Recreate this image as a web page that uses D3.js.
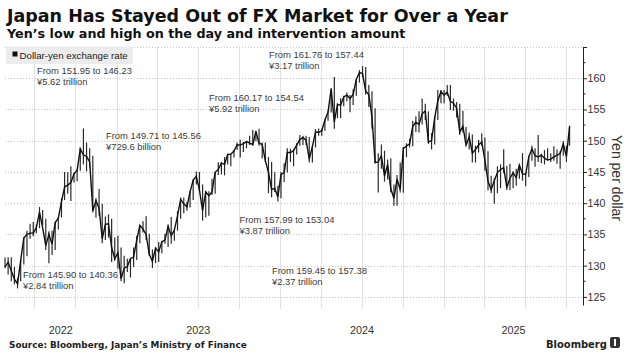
<!DOCTYPE html>
<html>
<head>
<meta charset="utf-8">
<script src="https://cdn.jsdelivr.net/npm/d3@7"></script>
<style>
  html, body { margin: 0; padding: 0; background: #fff; }
  svg { display: block; }
</style>
</head>
<body>
<svg id="chart" width="631" height="355"></svg>
<script>
// ---------------- DATA ----------------
const title = "Japan Has Stayed Out of FX Market for Over a Year";
const subtitle = "Yen\u2019s low and high on the day and intervention amount";
const legendLabel = "Dollar-yen exchange rate";
const sourceText = "Source: Bloomberg, Japan\u2019s Ministry of Finance";
const yAxisTitle = "Yen per dollar";
const yearLabels = ["2022", "2023", "2024", "2025"];
const yTicks = [125, 130, 135, 140, 145, 150, 155, 160, 165];

// weekly bars, first week starting Monday 2022-04-25, last week starting 2025-10-06
const firstWeek = "2022-04-25";
const lastWeek = "2025-10-06";

const lows2022 = [129.6,128.6,127.5,127.0,126.36,127.5,130.2,131.5,134.3,134.7,135.2,136.0,136.5,132.5,130.4,131.7,132.5,135.8,137.7,140.5,141.5,140.35,143.3,143.5,145.2,146.2,145.1,145.7,138.5,137.7,138.0,133.6,134.1,134.5,130.6,130.8];
const highs2022 = [131.3,131.35,131.35,129.8,128.0,131.0,134.55,135.6,136.7,137.0,136.6,139.38,138.9,137.5,135.5,135.6,137.0,137.7,140.8,144.99,144.96,145.9,144.9,145.4,148.85,151.95,149.7,148.8,147.6,140.8,142.25,139.9,137.85,138.2,137.5,134.5];
const closes2022 = [129.8,130.55,129.2,127.85,127.1,130.85,134.4,135.0,135.2,135.2,136.1,138.55,136.1,133.2,135.0,133.45,136.9,137.6,140.2,142.6,142.9,143.3,144.7,145.25,148.7,147.7,147.5,146.6,138.8,140.4,139.2,134.3,136.6,136.7,132.9,131.1];

const lows2023 = [129.5,127.5,127.2,129.0,128.1,129.8,130.9,133.6,135.3,134.1,131.6,129.6,130.4,130.6,132.0,133.5,133.0,133.5,134.0,135.6,137.5,138.4,138.8,139.3,140.5,143.0,142.0,137.2,137.7,138.0,141.3,141.5,144.5,144.6,144.45,146.2,145.9,147.3,148.5,147.3,148.2,148.8,149.3,149.2,149.9,149.2,147.15,146.65,141.6,140.95,141.8,140.25];
const highs2023 = [134.8,132.9,131.6,131.1,131.2,132.9,134.8,136.5,137.1,137.9,135.1,132.6,133.0,133.8,134.0,135.1,136.55,137.8,135.8,138.7,140.9,140.9,140.2,141.9,143.8,145.07,145.0,143.0,141.95,141.9,143.9,145.0,146.55,146.6,147.4,147.9,147.9,148.5,149.7,150.16,149.8,150.0,150.8,151.7,151.6,151.9,149.7,149.7,147.4,146.6,144.95,142.8];
const closes2023 = [132.1,127.9,129.6,129.85,131.15,131.35,134.1,136.45,135.85,134.95,131.8,130.7,132.8,132.2,133.8,134.1,136.3,134.8,135.7,137.95,140.6,139.9,139.4,141.8,143.7,144.3,142.1,138.8,141.8,141.2,141.8,144.95,145.4,146.4,146.2,147.8,147.85,148.35,149.35,149.3,149.55,149.85,149.6,149.4,151.5,149.6,149.4,146.8,144.95,142.15,142.4,141.0];

const lows2024 = [140.8,143.4,144.9,146.6,145.9,147.8,149.2,149.3,149.3,146.5,146.5,148.9,150.8,150.8,151.6,153.2,154.5,151.9,153.6,153.6,155.5,156.3,154.55,155.7,157.2,159.3,160.2,157.4,155.4,151.9,146.4,141.7,145.5,143.45,143.8,141.75,139.6,139.58,141.7,141.65,147.35,148.9,149.1,151.4,151.3,152.6,153.3,149.5,148.6,149.4,153.3,156.0,156.0];
const highs2024 = [145.0,146.4,148.8,148.7,148.6,149.6,150.9,150.8,150.8,150.6,149.2,151.86,151.97,151.9,153.4,154.8,158.4,160.2,156.0,156.8,157.2,157.7,157.3,158.25,159.9,161.3,161.95,161.8,158.9,157.9,155.2,148.0,149.4,148.4,147.0,147.2,143.0,144.5,146.5,149.0,149.6,150.3,153.2,153.9,154.7,156.75,155.9,154.7,151.2,153.9,158.1,158.1,158.1];
const closes2024 = [144.6,144.9,148.1,148.1,148.4,149.3,150.2,150.5,150.1,147.05,149.05,151.4,151.35,151.6,153.3,154.6,158.3,153.0,155.8,155.7,157.0,157.3,156.75,157.4,159.8,160.9,160.75,157.9,157.4,153.8,146.5,146.6,147.6,144.35,146.2,142.3,140.8,143.85,142.2,148.7,149.15,149.5,152.3,152.95,152.6,154.3,154.75,149.8,150.0,153.65,156.4,157.85,157.3];

const lows2025 = [157.2,154.9,154.8,153.7,150.95,151.3,149.28,148.6,146.5,146.5,148.1,149.2,145.2,142.05,141.6,139.9,141.6,142.4,144.8,142.1,142.1,142.4,142.8,143.9,143.6,142.7,144.2,146.8,145.85,146.6,146.4,146.2,146.85,146.6,146.8,146.3,145.5,147.6,146.6,149.2];
const highs2025 = [158.9,158.9,156.75,156.2,155.9,154.8,152.2,151.3,151.0,149.2,150.15,151.2,150.5,148.3,144.4,144.0,145.9,146.2,148.65,146.0,146.3,145.1,145.5,146.2,148.0,144.8,147.6,149.2,148.8,150.9,147.9,148.5,148.8,148.0,149.1,148.6,148.3,149.95,149.2,152.4];
const closes2025 = [157.75,156.3,156.0,155.2,151.4,152.3,149.3,150.6,148.0,148.6,149.3,149.8,146.9,143.5,142.2,143.6,144.9,145.4,145.7,142.5,144.0,144.85,144.1,146.1,144.7,144.6,147.4,148.7,147.6,147.4,147.7,147.2,146.9,147.05,147.4,147.7,147.95,149.5,147.45,152.3];

const annotationLines = [
  ["From 151.95 to 146.23", "\u00a55.62 trillion"],
  ["From 149.71 to 145.56", "\u00a5729.6 billion"],
  ["From 160.17 to 154.54", "\u00a55.92 trillion"],
  ["From 161.76 to 157.44", "\u00a53.17 trillion"],
  ["From 157.99 to 153.04", "\u00a53.87 trillion"],
  ["From 159.45 to 157.38", "\u00a52.37 trillion"],
  ["From 145.90 to 140.36", "\u00a52.84 trillion"]
];

// ---------------- LAYOUT ----------------
const annotationPos = [[37, 74], [106, 139], [209, 100.5], [269, 57.5], [239.5, 222.5], [272, 273.5], [23, 277.5]];
const FONT = "'Liberation Sans', Arial, sans-serif";
const BOLD = "'DejaVu Sans', 'Liberation Sans', sans-serif";

const svg = d3.select("#chart");
const parse = d3.utcParse("%Y-%m-%d");

const weeks = d3.utcMonday.range(parse(firstWeek), d3.utcDay.offset(parse(lastWeek), 1));
const lows = [...lows2022, ...lows2023, ...lows2024, ...lows2025];
const highs = [...highs2022, ...highs2023, ...highs2024, ...highs2025];
const closes = [...closes2022, ...closes2023, ...closes2024, ...closes2025];
const data = weeks.map((w, i) => ({ date: d3.utcDay.offset(w, 2), lo: lows[i], hi: highs[i], c: closes[i] }));

const x = d3.scaleUtc()
  .domain([parse("2022-04-27"), parse("2025-11-07")])
  .range([5, 583]);
const y = d3.scaleLinear().domain([123.7, 165]).range([305, 47]);

// vertical quarter gridlines
const quarters = d3.utcMonth.every(3).range(x.domain()[0], x.domain()[1]);
svg.append("g").selectAll("line").data(quarters).join("line")
  .attr("x1", d => Math.round(x(d)) + 0.5).attr("x2", d => Math.round(x(d)) + 0.5)
  .attr("y1", 47).attr("y2", 309)
  .attr("stroke", "#e2e2e2").attr("stroke-width", 1);

// horizontal dotted gridlines
svg.append("g").selectAll("line").data(yTicks).join("line")
  .attr("x1", 5).attr("x2", 583)
  .attr("y1", d => Math.round(y(d)) + 0.5).attr("y2", d => Math.round(y(d)) + 0.5)
  .attr("stroke", "#c8c8c8").attr("stroke-width", 1).attr("stroke-dasharray", "1,2");

// legend
svg.append("rect").attr("x", 6).attr("y", 46.5).attr("width", 127).attr("height", 17.5).attr("fill", "#ececec");
svg.append("rect").attr("x", 12.5).attr("y", 51.5).attr("width", 5).attr("height", 5).attr("fill", "#111");
svg.append("text").attr("x", 19.5).attr("y", 59).attr("font-family", FONT).attr("font-size", 9.7)
  .attr("fill", "#222").text(legendLabel);

// price bars (weekly high-low)
svg.append("g").selectAll("line").data(data).join("line")
  .attr("x1", d => x(d.date)).attr("x2", d => x(d.date))
  .attr("y1", d => y(d.hi)).attr("y2", d => y(d.lo))
  .attr("stroke", "#2a2a2a").attr("stroke-width", 1.2);

// close path
svg.append("path").datum(data)
  .attr("d", d3.line().x(d => x(d.date)).y(d => y(d.c)))
  .attr("fill", "none").attr("stroke", "#111").attr("stroke-width", 1.4);

// annotations
annotationLines.forEach((lines, i) => {
  const t = svg.append("text").attr("font-family", FONT).attr("font-size", 9.4).attr("fill", "#3a3a3a");
  lines.forEach((ln, j) => {
    t.append("tspan").attr("x", annotationPos[i][0]).attr("y", annotationPos[i][1] + j * 11).text(ln);
  });
});

// y axis
const yAxis = d3.axisRight(y).tickValues(yTicks).tickSize(4).tickPadding(0.5).tickSizeOuter(0)
  .tickFormat(d => d === 165 ? "" : d);
const ga = svg.append("g").attr("transform", "translate(583,0)").call(yAxis);
ga.select(".domain").attr("stroke", "#222");
ga.selectAll(".tick line").attr("stroke", "#222");
ga.selectAll(".tick text").attr("font-family", FONT).attr("font-size", 10.7).attr("fill", "#333");
const minor = d3.range(127.5, 165, 5);
svg.append("g").selectAll("line").data(minor).join("line")
  .attr("x1", 583).attr("x2", 585.5)
  .attr("y1", d => y(d)).attr("y2", d => y(d)).attr("stroke", "#222");

svg.append("text")
  .attr("transform", `translate(612,178) rotate(90)`)
  .attr("text-anchor", "middle").attr("font-family", FONT).attr("font-size", 14).attr("fill", "#333")
  .text(yAxisTitle);

// year labels centred on the visible part of each year
const [d0, d1] = x.domain();
yearLabels.forEach(yr => {
  const s = new Date(Math.max(d0, Date.UTC(+yr, 0, 1)));
  const e = new Date(Math.min(d1, Date.UTC(+yr + 1, 0, 1)));
  svg.append("text").attr("x", (x(s) + x(e)) / 2).attr("y", 334)
    .attr("text-anchor", "middle").attr("font-family", FONT).attr("font-size", 10.8).attr("fill", "#333")
    .text(yr);
});

// fitted bold texts
function fitText(str, xPos, yPos, targetW, size0, color) {
  const t = svg.append("text").attr("x", xPos).attr("y", yPos).attr("font-family", BOLD)
    .attr("font-weight", "bold").attr("font-size", size0).attr("fill", color).text(str);
  const w = t.node().getComputedTextLength();
  t.attr("font-size", size0 * targetW / w);
  return t;
}
fitText(title, 7, 21.8, 501, 17, "#111");
fitText(subtitle, 7, 37.8, 399, 12, "#111");
fitText(sourceText, 9, 348, 238, 10, "#222");
fitText("Bloomberg", 546, 347.5, 61, 12, "#222");
svg.append("rect").attr("x", 610).attr("y", 337).attr("width", 10).attr("height", 11).attr("rx", 2).attr("fill", "#333");
svg.append("rect").attr("x", 614).attr("y", 339).attr("width", 2).attr("height", 7).attr("fill", "#fff");
</script>
</body>
</html>
